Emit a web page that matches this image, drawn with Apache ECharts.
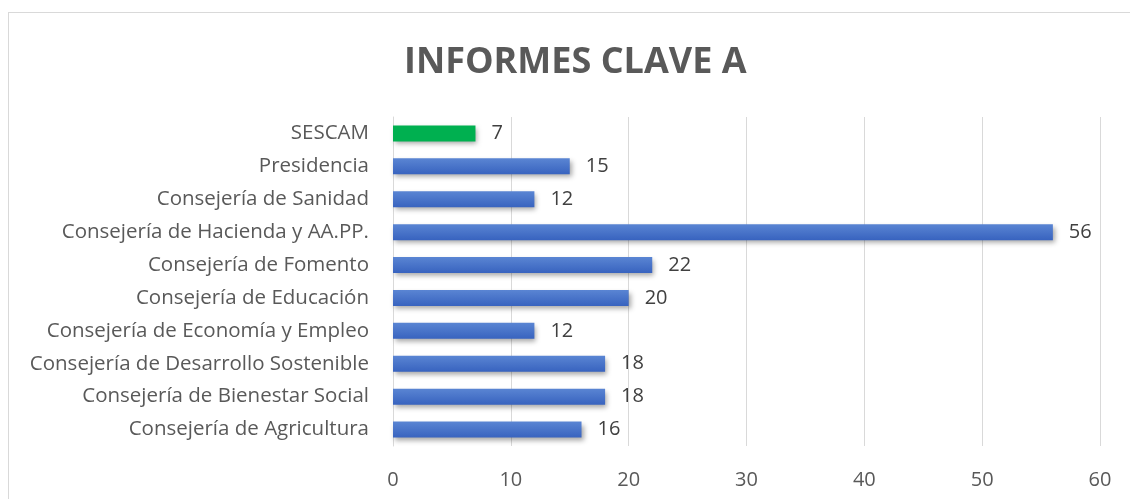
<!DOCTYPE html>
<html>
<head>
<meta charset="utf-8">
<script src="https://cdn.jsdelivr.net/npm/echarts@6/dist/echarts.min.js"></script>
<style>
  html, body { margin: 0; padding: 0; background: #fff; }
  #frame { position: absolute; left: 8px; top: 12px; width: 1140px; height: 520px; border: 1px solid #d9d9d9; box-sizing: border-box; }
  #chart { position: absolute; left: 0; top: 0; width: 1130px; height: 499px; }
</style>
</head>
<body>
<div id="frame"></div>
<div id="chart"></div>
<script>
const categories = [
  'Consejería de Agricultura',
  'Consejería de Bienestar Social',
  'Consejería de Desarrollo Sostenible',
  'Consejería de Economía y Empleo',
  'Consejería de Educación',
  'Consejería de Fomento',
  'Consejería de Hacienda y AA.PP.',
  'Consejería de Sanidad',
  'Presidencia',
  'SESCAM'
]
const values = [16, 18, 18, 12, 20, 22, 56, 12, 15, 7]
const xTicks = [0, 10, 20, 30, 40, 50, 60]

const font = 'Open Sans, sans-serif'
const textColor = '#595959'
const blue = new echarts.graphic.LinearGradient(0, 0, 0, 1, [
  { offset: 0, color: '#5a85d3' },
  { offset: 1, color: '#3863bf' }
])
const green = '#00b050'

const myChart = echarts.init(document.getElementById('chart'), null, { renderer: 'canvas' })

const option = {
  animation: false,
  title: {
    text: 'INFORMES CLAVE A',
    left: 399,
    top: 40,
    textStyle: { fontFamily: font, fontSize: 36, fontWeight: 'bold', color: '#595959' }
  },
  grid: { left: 393, right: 30, top: 117, bottom: 53, containLabel: false },
  xAxis: {
    type: 'value',
    min: xTicks[0],
    max: xTicks[xTicks.length - 1],
    interval: 10,
    axisLine: { show: false },
    axisTick: { show: false },
    axisLabel: { color: textColor, fontFamily: font, fontSize: 20, margin: 24 },
    splitLine: { lineStyle: { color: '#d9d9d9', width: 1 } }
  },
  yAxis: {
    type: 'category',
    data: categories,
    axisLine: { show: true, lineStyle: { color: '#d9d9d9' } },
    axisTick: { show: false },
    axisLabel: { color: textColor, fontFamily: font, fontSize: 20.5, margin: 24 }
  },
  series: [
    {
      type: 'bar',
      data: values.map((v, i) => ({
        value: v,
        itemStyle: { color: categories[i] === 'SESCAM' ? green : blue }
      })),
      barWidth: 16,
      itemStyle: {
        shadowColor: 'rgba(0,0,0,0.35)',
        shadowBlur: 5,
        shadowOffsetX: 2,
        shadowOffsetY: 3
      },
      label: {
        show: true,
        position: 'right',
        distance: 16,
        color: '#404040',
        fontFamily: font,
        fontSize: 20
      }
    }
  ]
}

myChart.setOption(option)
</script>
</body>
</html>
